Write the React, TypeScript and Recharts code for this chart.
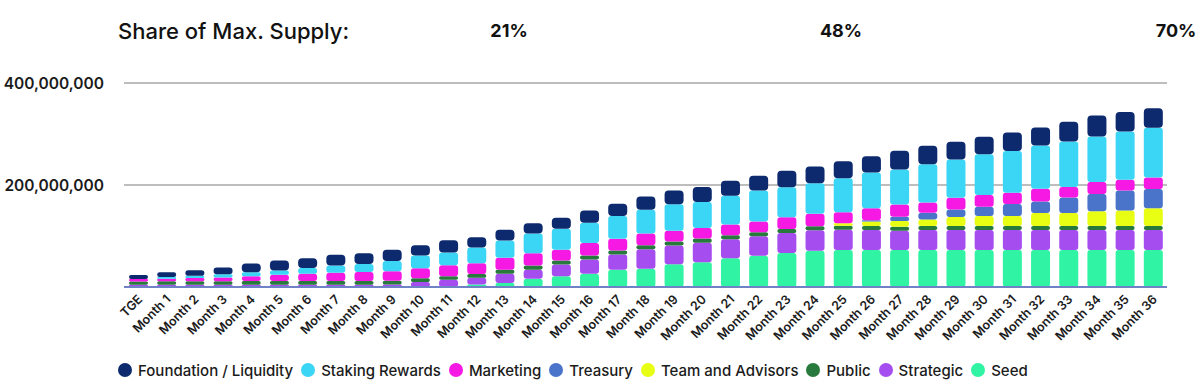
import React from "react";
import { BarChart, Bar, XAxis, YAxis, CartesianGrid, Legend } from "recharts";

const MONTHS = [
  "TGE", "Month 1", "Month 2", "Month 3", "Month 4", "Month 5", "Month 6", "Month 7", "Month 8", "Month 9",
  "Month 10", "Month 11", "Month 12", "Month 13", "Month 14", "Month 15", "Month 16", "Month 17", "Month 18",
  "Month 19", "Month 20", "Month 21", "Month 22", "Month 23", "Month 24", "Month 25", "Month 26", "Month 27",
  "Month 28", "Month 29", "Month 30", "Month 31", "Month 32", "Month 33", "Month 34", "Month 35", "Month 36",
];

// values in millions of tokens
const FOUNDATION = [8, 9.5, 11, 13, 17.5, 19.5, 19, 21, 21, 22, 20, 24, 20, 21, 20, 22, 24, 24, 26, 26.7, 29.4, 29.4, 28.8, 32, 32.7, 33.5, 32, 36.6, 35.9, 34.5, 34.5, 36.6, 35.3, 38.6, 41.2, 38, 38];
const STAKING = [0, 3.5, 4.5, 6.5, 7.5, 8.5, 11.5, 14.5, 16, 20, 25, 25, 31, 34, 39, 41, 39.5, 44.5, 46.5, 52.3, 51, 56.2, 60.8, 58.8, 60, 66.7, 70, 68.6, 75, 75.3, 79.8, 81.7, 85, 89.4, 89.4, 94.7, 98];
const MARKETING = [4.5, 4.5, 6, 7, 9.5, 12, 14, 16, 17.5, 18.5, 19.5, 21.5, 21, 23.5, 24, 21, 24.5, 23, 23, 21, 20.9, 20.9, 20.9, 23.5, 24.2, 21.5, 23.5, 24.2, 20.4, 22.8, 22.9, 22.2, 24.8, 20.3, 23.5, 21, 22.2];
const TREASURY = [0, 0, 0, 0, 0, 0, 0, 0, 0, 0, 0, 0, 0, 0, 0, 0, 0, 0, 0, 0, 0, 0, 0, 0, 0, 0, 2.5, 8.5, 13, 14.5, 18.3, 23.5, 22.8, 30.6, 34, 39, 37.8];
const TEAM = [0, 0, 0, 0, 0, 0, 0, 0, 0, 0, 0, 0, 0, 0, 0, 0, 0, 0, 0, 0, 0, 0, 0, 0, 0, 5, 8.5, 11, 13, 18, 19.6, 19.6, 25.5, 25.5, 28.8, 30.7, 35];
const PUBLIC = [6.5, 7, 7, 7, 7.2, 7.2, 7.2, 7.2, 7.2, 7.5, 7.5, 7, 7.5, 7.8, 8, 8, 8, 8, 8, 7.8, 8, 8, 8, 7.8, 8, 7.5, 7.8, 7.8, 7.8, 7.8, 7.8, 7.8, 7.8, 7.8, 7.8, 7.8, 7.8];
const STRATEGIC = [4.5, 4.5, 4.5, 4.5, 4.6, 4.6, 4.6, 4.6, 4.6, 5, 9.8, 14, 13, 18, 18, 23, 28, 29.5, 38, 37, 38.5, 37.5, 38, 39, 40, 40, 39.5, 38, 39.2, 39.2, 39.2, 39.2, 39.2, 39.2, 39.2, 39.2, 39.2];
const SEED = [0, 0, 0, 0, 0, 0, 0, 0, 0, 0, 0, 0, 5, 8, 16, 21, 26, 34, 36, 44.4, 48.4, 56.2, 61.4, 66.7, 71.2, 72.5, 72.5, 72.5, 72.5, 72.5, 72.5, 72.5, 72.5, 72.5, 72.5, 72.5, 72.5];

const Y_TICKS = [200000000, 400000000];
const SHARE_TITLE = "Share of Max. Supply:";
const SHARE_VALUES = ["21%", "48%", "70%"];

// stacked bottom -> top
const SERIES = [
  { key: "seed", name: "Seed", color: "#30f3a3", values: SEED },
  { key: "strategic", name: "Strategic", color: "#a64df0", values: STRATEGIC },
  { key: "public", name: "Public", color: "#287a3c", values: PUBLIC },
  { key: "team", name: "Team and Advisors", color: "#e8ff14", values: TEAM },
  { key: "treasury", name: "Treasury", color: "#4a74c9", values: TREASURY },
  { key: "marketing", name: "Marketing", color: "#f618e3", values: MARKETING },
  { key: "staking", name: "Staking Rewards", color: "#3bd5f5", values: STAKING },
  { key: "foundation", name: "Foundation / Liquidity", color: "#0d2a6e", values: FOUNDATION },
];
const LEGEND_ORDER = [...SERIES].reverse();

const data = MONTHS.map((m, i) => {
  const row: Record<string, any> = { month: m };
  SERIES.forEach((s) => {
    row[s.key] = s.values[i] * 1000000;
  });
  return row;
});

const FONT = "Inter, 'Noto Sans', sans-serif";

const MonthTick = (props: any) => {
  const { x, y, payload } = props;
  return (
    <g transform={`translate(${x + 2},${y + 10})`}>
      <text
        textAnchor="end"
        transform="rotate(-45)"
        dy="0.35em"
        fontSize={12.5}
        fontWeight={600}
        fill="#1b1b1b"
        fontFamily={FONT}
      >
        {payload.value}
      </text>
    </g>
  );
};

const LegendContent = () => (
  <div
    style={{
      display: "flex",
      alignItems: "center",
      height: 36,
      paddingLeft: 118,
      fontFamily: FONT,
      fontSize: 15,
      fontWeight: 500,
      color: "#1b1b1b",
      whiteSpace: "nowrap",
    }}
  >
    {LEGEND_ORDER.map((s) => (
      <div key={s.key} style={{ display: "flex", alignItems: "center", marginRight: 8 }}>
        <span
          style={{
            display: "inline-block",
            width: 14,
            height: 14,
            borderRadius: 7,
            background: s.color,
            marginRight: 6,
          }}
        />
        <span>{s.name}</span>
      </div>
    ))}
  </div>
);

export default function App() {
  const pctStyle: React.CSSProperties = {
    position: "absolute",
    top: 17,
    fontSize: 18,
    fontWeight: 700,
    lineHeight: "28px",
    color: "#111",
    transform: "translateX(-50%)",
  };
  return (
    <div
      style={{
        position: "absolute",
        left: 0,
        top: 0,
        width: 1200,
        height: 388,
        background: "#ffffff",
        fontFamily: FONT,
        overflow: "hidden",
      }}
    >
      <BarChart
        width={1200}
        height={388}
        data={data}
        margin={{ top: 83, right: 33, left: 0, bottom: 0 }}
        barSize={19}
      >
        <CartesianGrid vertical={false} stroke="#bdbdbd" strokeWidth={2} />
        <XAxis
          dataKey="month"
          interval={0}
          tick={<MonthTick />}
          tickLine={false}
          tickSize={0}
          tickMargin={0}
          axisLine={{ stroke: "#6f82c6", strokeWidth: 2 }}
          height={65}
        />
        <YAxis
          domain={[0, 400000000]}
          ticks={Y_TICKS}
          tickFormatter={(v: number) => v.toLocaleString("en-US")}
          axisLine={false}
          tickLine={false}
          width={124}
          tickMargin={14}
          tick={{ fontSize: 15.5, fontWeight: 600, fill: "#1b1b1b", fontFamily: FONT }}
        />
        <Legend verticalAlign="bottom" content={<LegendContent />} />
        {SERIES.map((s) => (
          <Bar
            key={s.key}
            dataKey={s.key}
            name={s.name}
            stackId="supply"
            fill={s.color}
            radius={s.key === "foundation" ? 4 : 3}
            isAnimationActive={false}
          />
        ))}
      </BarChart>
      <div style={{ position: "absolute", left: 118, top: 16, fontSize: 22, fontWeight: 500, lineHeight: "30px", color: "#111" }}>
        {SHARE_TITLE}
      </div>
      <div style={{ ...pctStyle, left: 509 }}>{SHARE_VALUES[0]}</div>
      <div style={{ ...pctStyle, left: 841 }}>{SHARE_VALUES[1]}</div>
      <div style={{ ...pctStyle, left: 1176 }}>{SHARE_VALUES[2]}</div>
    </div>
  );
}
